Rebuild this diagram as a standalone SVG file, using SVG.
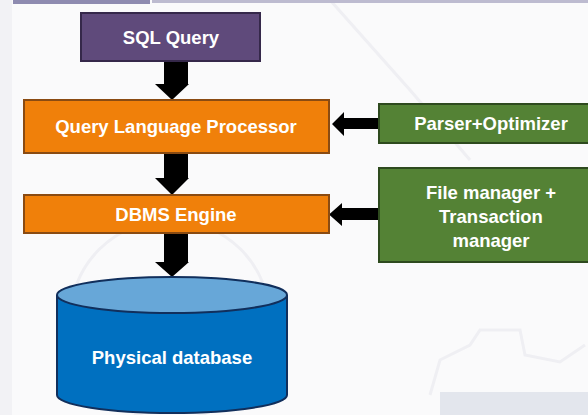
<svg xmlns="http://www.w3.org/2000/svg" width="588" height="415" viewBox="0 0 588 415">
<style>
.lbl{font-family:"Liberation Sans","Noto Sans",Arial,sans-serif;font-weight:bold;font-size:18.5px;fill:#ffffff;text-anchor:middle}
.arrow{fill:#000000}
.orange{fill:#f0800a;stroke:#8a4b12;stroke-width:2}
.green{fill:#548235;stroke:#2e4a1e;stroke-width:2}
</style>
<rect x="0" y="0" width="588" height="415" fill="#fafafb"/>
<rect x="0" y="0" width="12" height="415" fill="#f2f2f5"/>
<g fill="none" stroke="#efeff3" stroke-width="3">
<path d="M330 0 L410 90 L470 160"/>
<path d="M430 395 L440 360 L470 345 L480 330 L520 330 L525 355 L560 362 L585 345"/>
<circle cx="170" cy="320" r="100"/>
</g>
<rect x="440" y="392" width="148" height="23" fill="#e3e6ed"/>
<rect x="13" y="0" width="137" height="4" fill="#8e8bb0"/>
<rect x="152" y="0" width="436" height="3" fill="#bdbbd0"/>
<g id="connectors">
<polygon class="arrow" points="164,61 188,61 188,84 189,84 172,100 155,84 164,84"/>
<polygon class="arrow" points="380,118 344,118 344,112 332,124 344,136 344,129 380,129"/>
<polygon class="arrow" points="164,153 188,153 188,178 189,178 172,195 155,178 164,178"/>
<polygon class="arrow" points="380,208 342,208 342,203 329,214.5 342,226 342,220 380,220"/>
<polygon class="arrow" points="164,234 188,234 188,262 189,262 172,277 155,262 164,262"/>
</g>
<g id="sql">
<rect x="81" y="13" width="179" height="48" fill="#5f4a7b" stroke="#35284a" stroke-width="2"/>
<text class="lbl" x="171" y="44">SQL Query</text>
</g>
<g id="qlp">
<rect class="orange" x="24" y="100" width="305" height="53"/>
<text class="lbl" x="176" y="133">Query Language Processor</text>
</g>
<g id="parser">
<rect class="green" x="379" y="104" width="215" height="39"/>
<text class="lbl" x="491" y="130">Parser+Optimizer</text>
</g>
<g id="dbms">
<rect class="orange" x="24" y="195" width="305" height="38"/>
<text class="lbl" x="176" y="221">DBMS Engine</text>
</g>
<g id="filemgr">
<rect class="green" x="379" y="168" width="215" height="94"/>
<text class="lbl" x="491" y="199">File manager +</text>
<text class="lbl" x="491" y="223">Transaction</text>
<text class="lbl" x="491" y="247">manager</text>
</g>
<g id="database">
<path d="M57 295 L57 395 A115 18 0 0 0 287 395 L287 295" fill="#0070c0" stroke="#112f5c" stroke-width="2"/>
<ellipse cx="172" cy="295" rx="115" ry="18" fill="#67a7d8" stroke="#112f5c" stroke-width="2"/>
<text class="lbl" x="172" y="364">Physical database</text>
</g>
</svg>
